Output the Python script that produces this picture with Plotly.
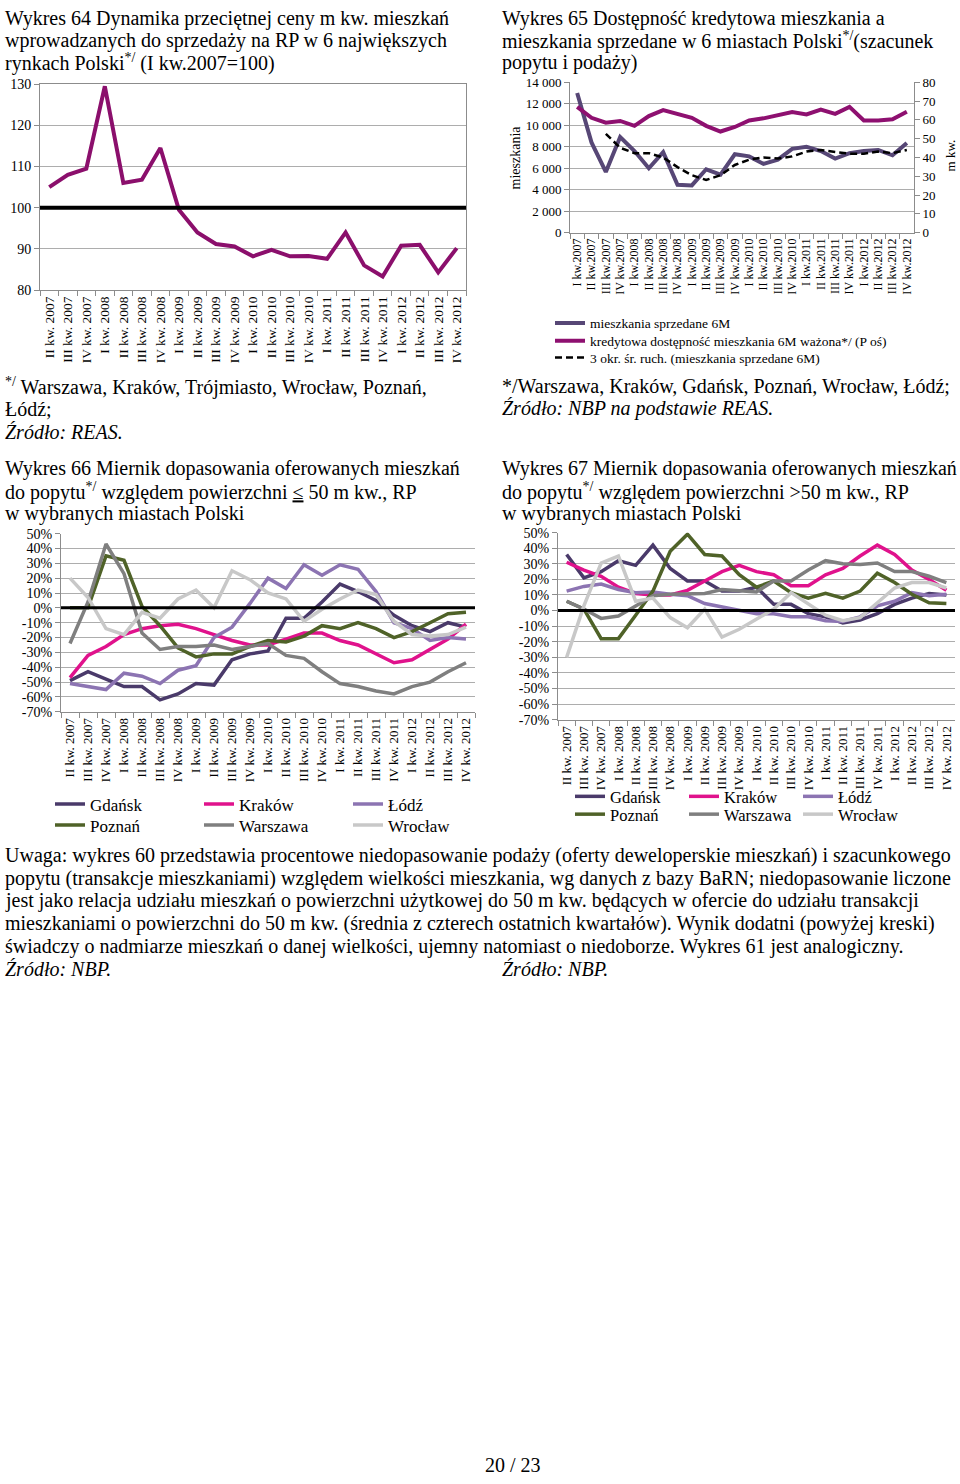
import plotly.graph_objects as go

W, H = 960, 1484
FONT = "Liberation Serif"

# ---------------- Wykres 64 ----------------
Q64 = ["II kw. 2007", "III kw. 2007", "IV kw. 2007", "I kw. 2008", "II kw. 2008", "III kw. 2008",
       "IV kw. 2008", "I kw. 2009", "II kw. 2009", "III kw. 2009", "IV kw. 2009", "I kw. 2010",
       "II kw. 2010", "III kw. 2010", "IV kw. 2010", "I kw. 2011", "II kw. 2011", "III kw. 2011",
       "IV kw. 2011", "I kw. 2012", "II kw. 2012", "III kw. 2012", "IV kw. 2012"]
PRICE_INDEX = [105, 108, 109.5, 129.5, 106, 106.8, 114.5, 99.5, 94, 91.2, 90.6, 88.2,
               89.8, 88.2, 88.3, 87.6, 94, 86, 83.3, 90.8, 91, 84.3, 90.2]
BASE_LEVEL = 100

# ---------------- Wykres 65 ----------------
Q65 = ["I kw.2007", "II kw.2007", "III kw.2007", "IV kw.2007", "I kw.2008", "II kw.2008",
       "III kw.2008", "IV kw.2008", "I kw.2009", "II kw.2009", "III kw.2009", "IV kw.2009",
       "I kw.2010", "II kw.2010", "III kw.2010", "IV kw.2010", "I kw.2011", "II kw.2011",
       "III kw.2011", "IV kw.2011", "I kw.2012", "II kw.2012", "III kw.2012", "IV kw.2012"]
SOLD_6M = [13000, 8400, 5650, 8900, 7600, 6000, 7500, 4450, 4400, 5900, 5400, 7300,
           7100, 6400, 6800, 7800, 8000, 7600, 6900, 7400, 7600, 7700, 7200, 8350]
CREDIT_6M = [66.9, 61.1, 58.5, 59.4, 56.8, 62.0, 65.2, 63.2, 61.1, 56.8, 53.8, 56.2,
             59.7, 60.8, 62.4, 64.1, 62.9, 65.5, 63.2, 66.9, 59.7, 59.7, 60.3, 64.3]
Q65_MA = Q65[2:]
MA3_SOLD = [9200, 7900, 7400, 7400, 7000, 6100, 5350, 4900, 5350, 6300, 6800, 7000,
            6900, 7100, 7550, 7700, 7500, 7350, 7350, 7550, 7400, 7700]
NAMES_65 = ["mieszkania sprzedane 6M",
            "kredytowa dostępność mieszkania 6M ważona*/ (P oś)",
            "3 okr. śr. ruch. (mieszkania sprzedane 6M)"]

# ---------------- Wykres 66 / 67 ----------------
QC = Q64
CITIES = ["Gdańsk", "Kraków", "Łódź", "Poznań", "Warszawa", "Wrocław"]
CITY_COLORS = ["#4A3A6A", "#E0128C", "#8C74B2", "#4F6228", "#7F7F7F", "#C8C8C8"]

SMALL_GDANSK = [-49, -43, -48, -53, -53, -62, -58, -51, -52, -35, -31, -29, -7, -7, 4, 16, 11, 5, -5, -12, -16, -10, -13]
SMALL_KRAKOW = [-47, -32, -26, -18, -14, -12, -11, -14, -18, -22, -25, -25, -21, -17, -17, -22, -25, -31, -37, -35, -28, -21, -11]
SMALL_LODZ = [-51, -53, -55, -44, -46, -51, -42, -39, -20, -13, 3, 20, 13, 29, 22, 29, 26, 11, -10, -14, -22, -20, -21]
SMALL_POZNAN = [0, 0, 35, 32, 1, -12, -27, -33, -31, -31, -26, -22, -23, -19, -12, -14, -10, -14, -20, -16, -10, -4, -3]
SMALL_WARSZAWA = [-24, 4, 43, 23, -17, -28, -26, -26, -25, -28, -26, -24, -32, -34, -43, -51, -53, -56, -58, -53, -50, -43, -37]
SMALL_WROCLAW = [20, 7, -14, -18, -3, -7, 6, 12, 0, 25, 19, 10, 6, -9, -1, 6, 12, 9, -9, -18, -19, -18, -13]

LARGE_GDANSK = [36, 21, 25, 32, 29, 42, 27, 19, 19, 12.5, 12.5, 15, 4, 4, -2, -4, -8, -6, -2, 4, 8, 11, 10]
LARGE_KRAKOW = [31, 26, 22, 15, 11, 10, 10, 13, 19, 25, 29, 25, 23, 16, 16, 23, 27, 35, 42, 36, 26, 20, 13]
LARGE_LODZ = [12.5, 15.5, 17, 13.5, 11.5, 12, 10.5, 9.5, 4.5, 2.5, 0, -2, -2, -4, -4, -6.5, -7, -4, 3, 6, 11.5, 9.5, 10.5]
LARGE_POZNAN = [6, 1, -18, -18, -3, 12.5, 38, 49, 36, 35, 23, 15, 19, 11.5, 8, 11, 8, 12.5, 24, 18, 10.5, 5, 4.5]
LARGE_WARSZAWA = [6, 1, -5, -3.5, 3, 9.5, 10.5, 10.5, 11, 13.5, 12.5, 12, 19, 19, 26, 32, 30, 29.5, 30.5, 25, 25, 22, 18]
LARGE_WROCLAW = [-30, 3, 30.5, 35, 6, 8, -4.5, -11, 1, -17, -12, -5.5, 1, 11.5, 4, -3, -6.5, -4.5, 5, 14.5, 18, 18, 14.5]

SMALL = [SMALL_GDANSK, SMALL_KRAKOW, SMALL_LODZ, SMALL_POZNAN, SMALL_WARSZAWA, SMALL_WROCLAW]
LARGE = [LARGE_GDANSK, LARGE_KRAKOW, LARGE_LODZ, LARGE_POZNAN, LARGE_WARSZAWA, LARGE_WROCLAW]

PCT_TICKS = [50, 40, 30, 20, 10, 0, -10, -20, -30, -40, -50, -60, -70]
PCT_LABELS = ["50%", "40%", "30%", "20%", "10%", "0%", "-10%", "-20%", "-30%", "-40%", "-50%", "-60%", "-70%"]

# ---------------- Text ----------------
HEAD_LEFT = ["Wykres 64 Dynamika przeciętnej ceny m kw. mieszkań",
             "wprowadzanych do sprzedaży na RP w 6 największych",
             "rynkach Polski<sup>*/</sup> (I kw.2007=100)"]
HEAD_RIGHT = ["Wykres 65 Dostępność kredytowa mieszkania a",
              "mieszkania sprzedane w 6 miastach Polski<sup>*/</sup>(szacunek",
              "popytu i podaży)"]
FOOT_LEFT = ["<sup>*/</sup> Warszawa, Kraków, Trójmiasto, Wrocław, Poznań,",
             "Łódź;",
             "<i>Źródło: REAS.</i>"]
FOOT_RIGHT = ["*/Warszawa, Kraków, Gdańsk, Poznań, Wrocław, Łódź;",
              "<i>Źródło: NBP na podstawie REAS.</i>"]
HEAD66 = ["Wykres 66 Miernik dopasowania oferowanych mieszkań",
          "do popytu<sup>*/</sup> względem powierzchni <u>≤</u> 50 m kw., RP",
          "w wybranych miastach Polski"]
HEAD67 = ["Wykres 67 Miernik dopasowania oferowanych mieszkań",
          "do popytu<sup>*/</sup> względem powierzchni >50 m kw., RP",
          "w wybranych miastach Polski"]
NOTE = ["Uwaga: wykres 60 przedstawia procentowe niedopasowanie podaży (oferty deweloperskie mieszkań) i szacunkowego",
        "popytu (transakcje mieszkaniami) względem wielkości mieszkania, wg danych z bazy BaRN; niedopasowanie liczone",
        "jest jako relacja udziału mieszkań o powierzchni użytkowej do 50 m kw. będących w ofercie do udziału transakcji",
        "mieszkaniami o powierzchni do 50 m kw. (średnia z czterech ostatnich kwartałów). Wynik dodatni (powyżej kreski)",
        "świadczy o nadmiarze mieszkań o danej wielkości, ujemny natomiast o niedoborze. Wykres 61 jest analogiczny."]


def px(x):
    return x / W


def py(y):
    return 1 - y / H


GRID = "#ADADAD"
AXL = "#8C8C8C"

fig = go.Figure()

# Chart 64
fig.add_trace(go.Scatter(x=Q64, y=PRICE_INDEX, mode="lines", xaxis="x", yaxis="y",
                         line=dict(color="#8B0F6C", width=4), showlegend=False))

# Chart 65
fig.add_trace(go.Scatter(x=Q65, y=SOLD_6M, mode="lines", xaxis="x2", yaxis="y2", name=NAMES_65[0],
                         line=dict(color="#574776", width=4), legend="legend"))
fig.add_trace(go.Scatter(x=Q65, y=CREDIT_6M, mode="lines", xaxis="x2", yaxis="y3", name=NAMES_65[1],
                         line=dict(color="#8E1070", width=4), legend="legend6"))
fig.add_trace(go.Scatter(x=Q65_MA, y=MA3_SOLD, mode="lines", xaxis="x2", yaxis="y2", name=NAMES_65[2],
                         line=dict(color="black", width=2.5, dash="7px,4px"), legend="legend7"))

# Chart 66
for i, (city, col, vals) in enumerate(zip(CITIES, CITY_COLORS, SMALL)):
    fig.add_trace(go.Scatter(x=QC, y=vals, mode="lines", xaxis="x3", yaxis="y4", name=city,
                             line=dict(color=col, width=3.5),
                             legend="legend2" if i < 3 else "legend3"))
# Chart 67
for i, (city, col, vals) in enumerate(zip(CITIES, CITY_COLORS, LARGE)):
    fig.add_trace(go.Scatter(x=QC, y=vals, mode="lines", xaxis="x4", yaxis="y5", name=city,
                             line=dict(color=col, width=3.5),
                             legend="legend4" if i < 3 else "legend5"))


def xcat(domain, anchor, cats, size):
    return dict(domain=domain, anchor=anchor, type="category", categoryorder="array",
                categoryarray=cats, range=[-0.5, len(cats) - 0.5], tickangle=-90,
                ticks="outside", tickson="boundaries", ticklen=5, tickcolor=AXL,
                showline=True, linecolor=AXL, linewidth=1, showgrid=False, zeroline=False,
                tickfont=dict(family=FONT, size=size, color="black"))


def yval(domain, anchor, rng, size, **kw):
    d = dict(domain=domain, anchor=anchor, range=rng, showgrid=True, gridcolor=GRID, gridwidth=1,
             showline=True, linecolor=AXL, linewidth=1, ticks="outside", ticklen=5, tickcolor=AXL,
             zeroline=False, tickfont=dict(family=FONT, size=size, color="black"))
    d.update(kw)
    return d


def leg(x, y, size, orientation="v", entrywidth=None):
    d = dict(x=px(x), y=py(y), xanchor="left", yanchor="top", orientation=orientation,
             font=dict(family=FONT, size=size, color="black"), bgcolor="rgba(0,0,0,0)")
    if entrywidth:
        d["entrywidth"] = entrywidth
    return d


layout = dict(
    width=W, height=H, margin=dict(l=0, r=0, t=0, b=0),
    paper_bgcolor="white", plot_bgcolor="white", separators=", ",
    font=dict(family=FONT, color="black"),
    xaxis=xcat([px(40), px(466)], "y", Q64, 13.5) | dict(mirror=True),
    yaxis=yval([py(286), py(78)], "x", [80, 130], 14, dtick=10, mirror=True),
    xaxis2=xcat([px(570), px(914)], "y2", Q65, 12),
    yaxis2=yval([py(228), py(76)], "x2", [0, 14000], 13, dtick=2000, tickformat=",d"),
    yaxis3=dict(overlaying="y2", anchor="x2", side="right", range=[0, 80], dtick=10, showgrid=False,
                showline=True, linecolor=AXL, ticks="outside", ticklen=5, tickcolor=AXL, zeroline=False,
                tickfont=dict(family=FONT, size=13, color="black")),
    xaxis3=xcat([px(61), px(475)], "y4", QC, 13),
    yaxis4=yval([py(712), py(532)], "x3", [-70, 50], 14, tickvals=PCT_TICKS, ticktext=PCT_LABELS),
    xaxis4=xcat([px(558), px(955)], "y5", QC, 13),
    yaxis5=yval([py(720), py(531)], "x4", [-70, 50], 14, tickvals=PCT_TICKS, ticktext=PCT_LABELS),
    legend=leg(550, 303.7, 13.5),
    legend6=leg(550, 321.7, 13.5),
    legend7=leg(550, 338.7, 13.5),
    legend2=leg(50, 787.5, 17, "h", 104),
    legend3=leg(50, 808.5, 17, "h", 104),
    legend4=leg(570, 780, 16.5, "h", 69),
    legend5=leg(570, 798, 16.5, "h", 69),
)
fig.update_layout(**layout)

# reference lines
fig.add_shape(type="line", xref="x domain", yref="y", x0=0, x1=1, y0=BASE_LEVEL, y1=BASE_LEVEL,
              line=dict(color="black", width=4), layer="above")
fig.add_shape(type="line", xref="x3 domain", yref="y4", x0=0, x1=1, y0=0, y1=0,
              line=dict(color="black", width=3), layer="above")
fig.add_shape(type="line", xref="x4 domain", yref="y5", x0=0, x1=1, y0=0, y1=0,
              line=dict(color="black", width=3), layer="above")


def txt(s, x, y, size=20, anchor="left", angle=0):
    fig.add_annotation(text=s, x=px(x), y=py(y), xref="paper", yref="paper", showarrow=False,
                       xanchor=anchor, yanchor="middle", textangle=angle,
                       font=dict(family=FONT, size=size, color="black"))


for i, s in enumerate(HEAD_LEFT):
    txt(s, 3, 12 + 22 * i)
for i, s in enumerate(HEAD_RIGHT):
    txt(s, 500, 12 + 22 * i)
for i, s in enumerate(FOOT_LEFT):
    txt(s, 3, 383 + 23 * i)
for i, s in enumerate(FOOT_RIGHT):
    txt(s, 500, 383 + 23 * i)
for i, s in enumerate(HEAD66):
    txt(s, 3, 466 + 23 * i)
for i, s in enumerate(HEAD67):
    txt(s, 500, 466 + 23 * i)
for i, s in enumerate(NOTE):
    txt(s, 3, 857 + 23 * i)
txt("<i>Źródło: NBP.</i>", 3, 972)
txt("<i>Źródło: NBP.</i>", 500, 972)
txt("mieszkania", 515, 152, size=14, anchor="center", angle=-90)
txt("m kw.", 950, 150, size=13, anchor="center", angle=-90)
txt("20 / 23", 513, 1473, size=20, anchor="center")

fig.write_html("out.html", config={"displayModeBar": False},
               post_script="document.body.style.margin='0px';")
